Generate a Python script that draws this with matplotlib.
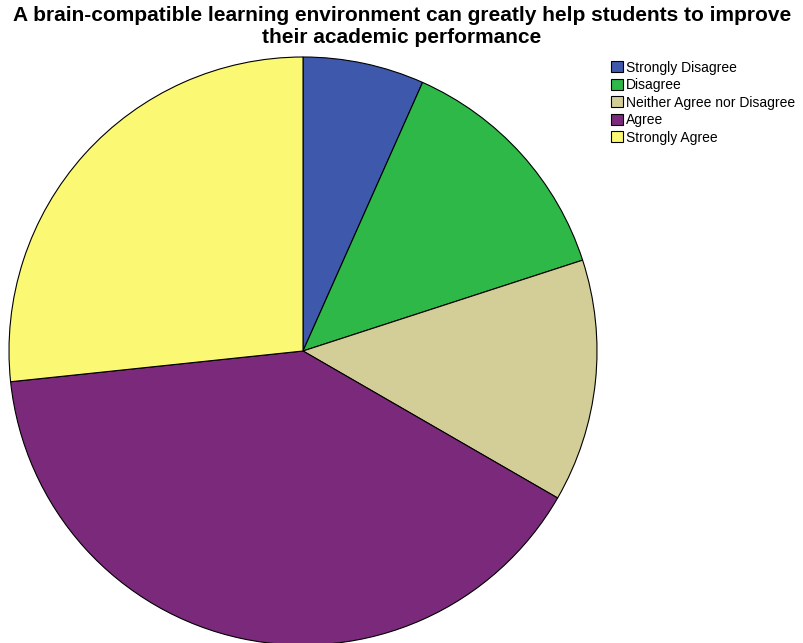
import matplotlib
matplotlib.use('Agg')
import matplotlib.pyplot as plt

# responses to the survey item
labels = ['Strongly Disagree', 'Disagree', 'Neither Agree nor Disagree',
          'Agree', 'Strongly Agree']
counts = [1, 2, 2, 6, 4]
colors = ['#3e58ac', '#2eb848', '#d3ce97', '#7b2a7b', '#fbf873']

title = ('A brain-compatible learning environment can greatly help students to improve\n'
         'their academic performance')

plt.rcParams['font.family'] = ['Liberation Sans', 'DejaVu Sans']

fig = plt.figure(figsize=(8.04, 6.43), dpi=100)
ax = fig.add_axes([9 / 804, -2 / 643, 588 / 804, 588 / 643])

wedges, _ = ax.pie(counts, colors=colors, startangle=90, counterclock=False,
                   radius=1.0,
                   wedgeprops=dict(edgecolor='black', linewidth=0.8))
ax.set_xlim(-1.0, 1.0)
ax.set_ylim(-1.0, 1.0)
ax.set_aspect('equal')

fig.text(402 / 804, 1 - 6 / 643, title, ha='center', va='top',
         fontsize=15, fontweight='bold', linespacing=1.2)

leg = fig.legend(wedges, labels, loc='upper left',
                 bbox_to_anchor=(601 / 804, 1 - 51 / 643),
                 frameon=False, fontsize=10, handlelength=0.85,
                 handleheight=0.85, handletextpad=0.25, labelspacing=0.25,
                 borderpad=0.2)

fig.savefig('out.png', dpi=100)
